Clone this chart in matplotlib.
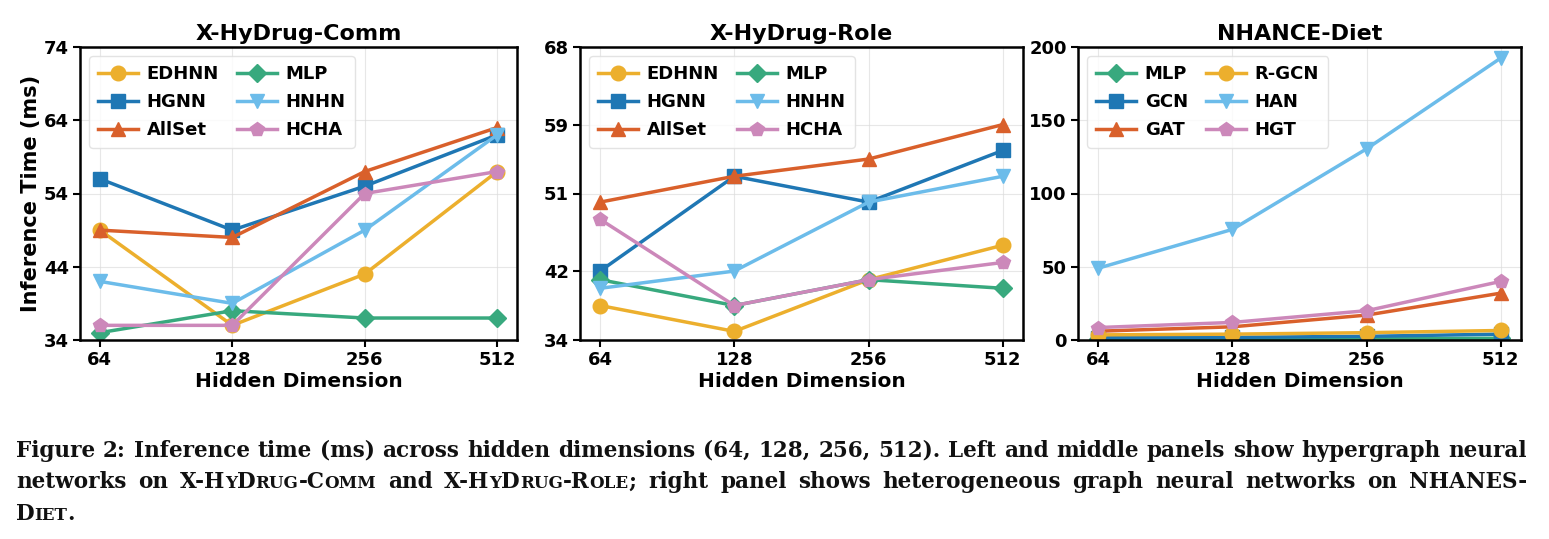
import matplotlib
matplotlib.use("Agg")
import matplotlib.pyplot as plt

# ---------------- data ----------------
x_labels = ["64", "128", "256", "512"]

comm_edhnn = [49, 36, 43, 57]
comm_hgnn = [56, 49, 55, 62]
comm_allset = [49, 48, 57, 63]
comm_mlp = [35, 38, 37, 37]
comm_hnhn = [42, 39, 49, 62]
comm_hcha = [36, 36, 54, 57]

role_edhnn = [38, 35, 41, 45]
role_hgnn = [42, 53, 50, 56]
role_allset = [50, 53, 55, 59]
role_mlp = [41, 38, 41, 40]
role_hnhn = [40, 42, 50, 53]
role_hcha = [48, 38, 41, 43]

diet_mlp = [0.5, 0.6, 0.8, 1.2]
diet_gcn = [1.5, 1.8, 2.5, 4.0]
diet_gat = [6, 9, 17, 32]
diet_rgcn = [3.5, 4, 5, 6.5]
diet_han = [49, 75.5, 130.5, 192.5]
diet_hgt = [8.5, 12, 20, 40]

hyper_names = ["EDHNN", "HGNN", "AllSet", "MLP", "HNHN", "HCHA"]
hetero_names = ["MLP", "GCN", "GAT", "R-GCN", "HAN", "HGT"]

titles = ["X-HyDrug-Comm", "X-HyDrug-Role", "NHANCE-Diet"]
y_limits = [(34, 74), (34, 68), (0, 200)]
y_ticks = [[34, 44, 54, 64, 74], [34, 42, 51, 59, 68], [0, 50, 100, 150, 200]]

caption_lines = [
    "Figure 2: Inference time (ms) across hidden dimensions (64, 128, 256, 512). Left and middle panels show hypergraph neural",
    "networks on {X-HyDrug-Comm} and {X-HyDrug-Role}; right panel shows heterogeneous graph neural networks on NHANES-",
    "{Diet}.",
]

# ---------------- styles ----------------
C_GOLD = "#ECAF2D"
C_BLUE = "#1F77B4"
C_RED = "#D9602B"
C_GREEN = "#38A97E"
C_SKY = "#6CBCEA"
C_PINK = "#CC88BA"

hyper_styles = {
    "EDHNN": (C_GOLD, "o"), "HGNN": (C_BLUE, "s"), "AllSet": (C_RED, "^"),
    "MLP": (C_GREEN, "D"), "HNHN": (C_SKY, "v"), "HCHA": (C_PINK, "p"),
}
hetero_styles = {
    "MLP": (C_GREEN, "D"), "GCN": (C_BLUE, "s"), "GAT": (C_RED, "^"),
    "R-GCN": (C_GOLD, "o"), "HAN": (C_SKY, "v"), "HGT": (C_PINK, "p"),
}

panels = [
    (dict(zip(hyper_names, [comm_edhnn, comm_hgnn, comm_allset, comm_mlp, comm_hnhn, comm_hcha])), hyper_styles),
    (dict(zip(hyper_names, [role_edhnn, role_hgnn, role_allset, role_mlp, role_hnhn, role_hcha])), hyper_styles),
    (dict(zip(hetero_names, [diet_mlp, diet_gcn, diet_gat, diet_rgcn, diet_han, diet_hgt])), hetero_styles),
]

W, H = 1549, 539
fig = plt.figure(figsize=(W / 100, H / 100), dpi=100)

ax_px = [(80, 517), (580, 1023), (1078, 1521)]
top_px, bot_px = 47, 340

xs = list(range(len(x_labels)))
for i, (series, styles) in enumerate(panels):
    l, r = ax_px[i]
    ax = fig.add_axes([l / W, 1 - bot_px / H, (r - l) / W, (bot_px - top_px) / H])
    for name, vals in series.items():
        col, mk = styles[name]
        ms = 9 if mk == "D" else 10.5
        ax.plot(xs, vals, color=col, marker=mk, lw=2.5, ms=ms, label=name)
    ax.set_xticks(xs)
    ax.set_xticklabels(x_labels)
    ax.set_ylim(*y_limits[i])
    ax.set_yticks(y_ticks[i])
    ax.grid(True, color="#dddddd", lw=0.8, alpha=0.7)
    ax.set_axisbelow(True)
    for s in ax.spines.values():
        s.set_linewidth(1.8)
    ax.tick_params(axis="both", labelsize=13, width=1.5, length=5, pad=3)
    for t in ax.get_xticklabels() + ax.get_yticklabels():
        t.set_fontweight("bold")
    ax.set_title(titles[i], fontsize=16, fontweight="bold", pad=5)
    ax.set_xlabel("Hidden Dimension", fontsize=14.5, fontweight="bold", labelpad=2)
    if i == 0:
        ax.set_ylabel("Inference Time (ms)", fontsize=15, fontweight="bold", labelpad=2)
    leg = ax.legend(loc="upper left", ncol=2, prop={"weight": "bold", "size": 13},
                    handlelength=2.2, handletextpad=0.5, columnspacing=1.0,
                    framealpha=0.8, borderpad=0.5, labelspacing=0.55)
    leg.get_frame().set_edgecolor("#dddddd")

# ---------------- caption with small caps & justification ----------------
CAP_FS = 15.5
SC_FACTOR = 0.78
cap_font = dict(family="DejaVu Serif", weight="bold", color="#111111")


def parse_word(word):
    segs = []
    sc = False
    for ch in word:
        if ch == "{":
            sc = True
            continue
        if ch == "}":
            sc = False
            continue
        if sc and ch.islower():
            item = (ch.upper(), SC_FACTOR)
        else:
            item = (ch, 1.0)
        if segs and segs[-1][1] == item[1]:
            segs[-1] = (segs[-1][0] + item[0], item[1])
        else:
            segs.append(item)
    return segs


renderer = fig.canvas.get_renderer()
x_left, x_right = 16, 1527
baselines = [457, 488, 520]


def measure_line(line, fs):
    out = []
    for w in line.split(" "):
        items = []
        wsum = 0.0
        for txt, fac in parse_word(w):
            t = fig.text(0, 0, txt, fontsize=fs * fac, va="baseline", ha="left", **cap_font)
            bb = t.get_window_extent(renderer)
            items.append((t, bb.width))
            wsum += bb.width
        out.append((items, wsum))
    return out


# choose the size so that the longest justified line keeps normal spacing
fs = CAP_FS
probe = measure_line(caption_lines[0], fs)
nat = sum(ws for _, ws in probe) + (len(probe) - 1) * fs * 100 / 72 * 0.28
for items, _ in probe:
    for t, _ in items:
        t.remove()
if nat > (x_right - x_left):
    fs = fs * (x_right - x_left) / nat

space_px = fs * 100 / 72 * 0.28
for li, line in enumerate(caption_lines):
    word_items = measure_line(line, fs)
    total = sum(ws for _, ws in word_items)
    if li < len(caption_lines) - 1 and len(word_items) > 1:
        gap = (x_right - x_left - total) / (len(word_items) - 1)
    else:
        gap = space_px
    x = x_left
    for items, ws in word_items:
        xx = x
        for t, wdt in items:
            t.set_position((xx / W, 1 - baselines[li] / H))
            xx += wdt
        x += ws + gap

fig.savefig("out.png", dpi=100)
